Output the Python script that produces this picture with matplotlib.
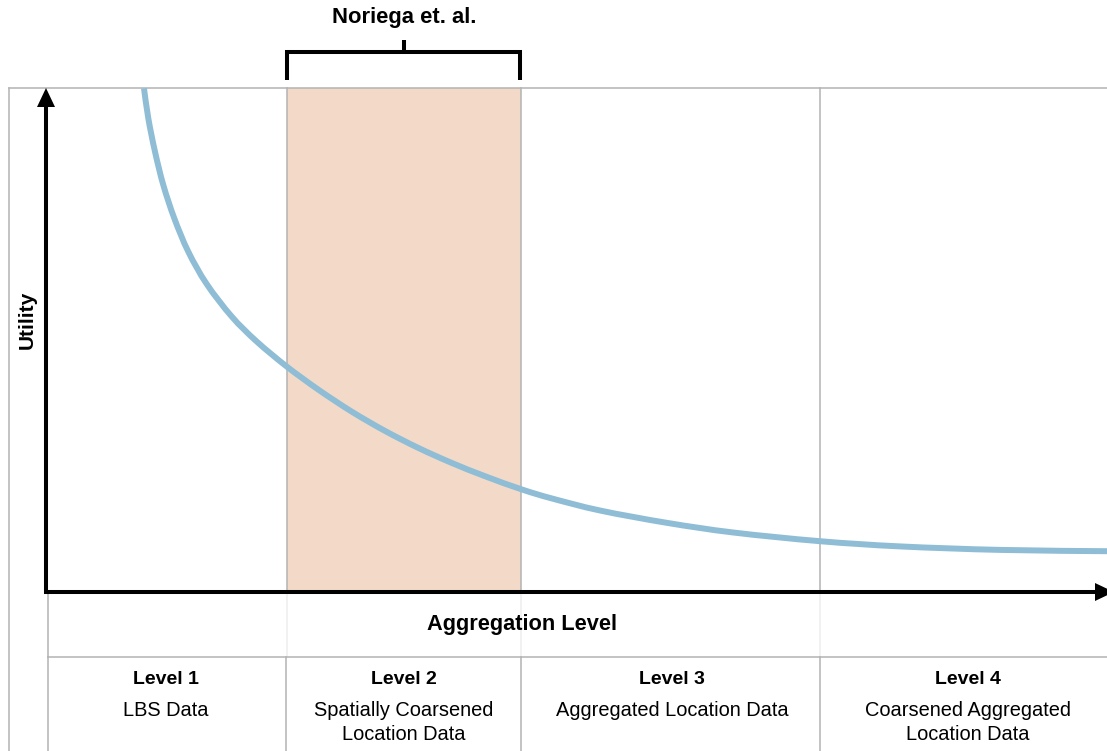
import matplotlib
matplotlib.use("Agg")
import matplotlib.pyplot as plt
import numpy as np
from matplotlib.patches import Rectangle, Polygon, PathPatch
from matplotlib.path import Path

# ---- data (in figure-pixel units) ----
curve_x = [144, 148.3, 155, 163.3, 174.3, 188.3, 206.7, 231.7, 256.7, 286.7,
           318.3, 351.7, 385, 418.3, 451.7, 485, 521.7, 551.7, 600, 666.7,
           733.3, 820, 900, 1000, 1107]
curve_y = [88.3, 118.3, 151.7, 185, 218.3, 251.7, 284, 316.5, 341.5, 366.5,
           389.6, 411.6, 430.9, 447.9, 462.9, 476.2, 489.4, 498.4, 510.5, 522.8,
           532.5, 541.2, 546.4, 549.9, 551.2]

level_titles = ["Level 1", "Level 2", "Level 3", "Level 4"]
level_descs = [["LBS Data"], ["Spatially Coarsened", "Location Data"],
               ["Aggregated Location Data"], ["Coarsened Aggregated", "Location Data"]]
x_label = "Aggregation Level"
y_label = "Utility"
bracket_label = "Noriega et. al."

# ---- figure ----
W, H = 1107, 751
fig = plt.figure(figsize=(W / 100, H / 100), dpi=100)
ax = fig.add_axes([0, 0, 1, 1])
ax.set_xlim(0, W)
ax.set_ylim(H, 0)
ax.axis("off")

FONT = "Liberation Sans"
GRAY = "#b3b3b3"
FAINT = "#ededed"
glw = 1.1

# highlighted region (Level 2)
ax.add_patch(Rectangle((287, 88), 521 - 287, 592 - 88, facecolor="#f3dac8",
                       edgecolor="none", zorder=1))

# frame lines
ax.plot([9, W], [88, 88], color=GRAY, lw=glw, zorder=2)
ax.plot([9, 9], [88, H], color=GRAY, lw=glw, zorder=2)
for xv in [287, 521, 820]:
    ax.plot([xv, xv], [88, 592], color=GRAY, lw=glw, zorder=2)
    ax.plot([xv, xv], [592, 657], color=FAINT, lw=glw, zorder=2)
for xv in [48, 286, 521, 820]:
    ax.plot([xv, xv], [657, H], color=GRAY, lw=glw, zorder=2)
ax.plot([48, 48], [592, 657], color=GRAY, lw=glw, zorder=2)
ax.plot([48, W], [657, 657], color=GRAY, lw=glw, zorder=2)

# utility curve: smooth (Catmull-Rom style Bezier) path through the read points
P = np.column_stack([curve_x, curve_y])
verts = [tuple(P[0])]
codes = [Path.MOVETO]
n = len(P)
for i in range(n - 1):
    p0 = P[i - 1] if i > 0 else P[i]
    p1 = P[i]
    p2 = P[i + 1]
    p3 = P[i + 2] if i + 2 < n else P[i + 1]
    c1 = p1 + (p2 - p0) / 6.0
    c2 = p2 - (p3 - p1) / 6.0
    verts += [tuple(c1), tuple(c2), tuple(p2)]
    codes += [Path.CURVE4] * 3
ax.add_patch(PathPatch(Path(verts, codes), facecolor="none", edgecolor="#8fbdd5",
                       lw=4.3, capstyle="butt", zorder=3))

# axes arrows
alw = 2.9
ax.plot([46, 46], [594, 100], color="black", lw=alw, solid_capstyle="butt", zorder=4)
ax.plot([44, 1100], [592, 592], color="black", lw=alw, solid_capstyle="butt", zorder=4)
ax.add_patch(Polygon([(37, 107), (55, 107), (46, 88)], closed=True,
                     facecolor="black", edgecolor="none", zorder=4))
ax.add_patch(Polygon([(1095, 583), (1095, 601), (1114, 592)], closed=True,
                     facecolor="black", edgecolor="none", zorder=4))

# bracket
blw = 2.9
ax.plot([287, 287, 520, 520], [80, 52, 52, 80], color="black", lw=blw,
        solid_joinstyle="miter", solid_capstyle="butt", zorder=4)
ax.plot([404, 404], [52, 40], color="black", lw=blw, solid_capstyle="butt", zorder=4)
ax.text(404, 18, bracket_label, ha="center", va="center", fontsize=15.8,
        fontweight="bold", family=FONT)

# axis labels
ax.text(27, 320, y_label, ha="center", va="center", rotation=90, fontsize=15,
        fontweight="bold", family=FONT)
ax.text(522, 624.5, x_label, ha="center", va="center", fontsize=15.7,
        fontweight="bold", family=FONT)

# level table
centers = [166, 404, 672, 968]
for cx, t, d in zip(centers, level_titles, level_descs):
    ax.text(cx, 679, t, ha="center", va="center", fontsize=14, fontweight="bold",
            family=FONT)
    for i, line in enumerate(d):
        ax.text(cx, 711 + 24 * i, line, ha="center", va="center", fontsize=14.4,
                family=FONT)

fig.savefig("out.png", dpi=100)
